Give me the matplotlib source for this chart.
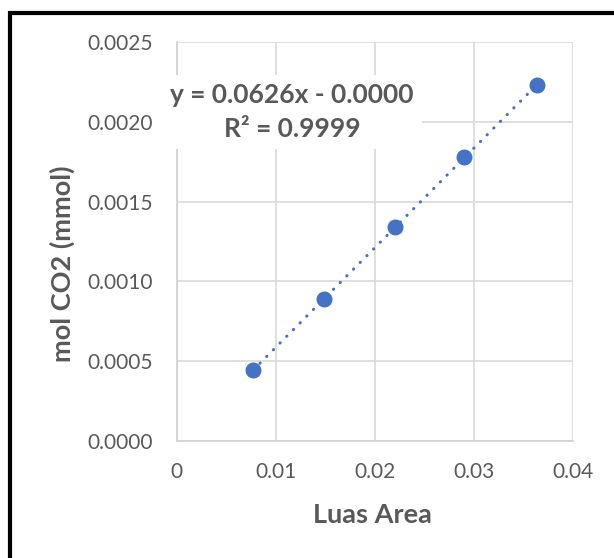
import matplotlib.pyplot as plt
import numpy as np
from matplotlib.patches import Rectangle

# data
luas_area = [0.00773, 0.01489, 0.02203, 0.02902, 0.03639]
mol_co2 = [0.000444, 0.000889, 0.001339, 0.001782, 0.002231]

x_ticks = [0, 0.01, 0.02, 0.03, 0.04]
x_tick_labels = ['0', '0.01', '0.02', '0.03', '0.04']
y_ticks = [0.0000, 0.0005, 0.0010, 0.0015, 0.0020, 0.0025]
y_tick_labels = ['0.0000', '0.0005', '0.0010', '0.0015', '0.0020', '0.0025']

eq_text = 'y = 0.0626x - 0.0000\nR² = 0.9999'

plt.rcParams['font.family'] = ['Lato', 'DejaVu Sans']

TXT = '#595959'
GRID = '#D9D9D9'
BLUE = '#4472C4'

fig = plt.figure(figsize=(6.14, 5.58), dpi=100)
ax = fig.add_axes([176.7 / 614, 1 - 440.7 / 558, (573 - 176.7) / 614, (440.7 - 42.3) / 558])

# trendline (linear fit)
coef = np.polyfit(luas_area, mol_co2, 1)
xs = np.array([min(luas_area), max(luas_area)])
ax.plot(xs, np.polyval(coef, xs), color=BLUE, lw=2.2,
        linestyle=(0, (0.1, 3.0)), dash_capstyle='round', zorder=3)

# data points
ax.plot(luas_area, mol_co2, 'o', color=BLUE, markersize=10.5, zorder=4)

ax.set_xlim(0, 0.04)
ax.set_ylim(0, 0.0025)
ax.set_xticks(x_ticks)
ax.set_xticklabels(x_tick_labels)
ax.set_yticks(y_ticks)
ax.set_yticklabels(y_tick_labels)
ax.tick_params(length=0, labelsize=15, labelcolor=TXT)
ax.tick_params(axis='x', pad=15)
ax.tick_params(axis='y', pad=17)

ax.grid(True, color=GRID, lw=1.2)
ax.set_axisbelow(True)
for s in ['top', 'right']:
    ax.spines[s].set_visible(False)
for s in ['left', 'bottom']:
    ax.spines[s].set_color('#D0D0D0')
    ax.spines[s].set_linewidth(1.2)

# equation label with white box
ax.text(0.01163, 0.002065, eq_text, ha='center', va='center', multialignment='center',
        fontsize=19, fontweight='bold', color=TXT, linespacing=1.5, zorder=5,
        bbox=dict(boxstyle='square,pad=0.3', facecolor='white', edgecolor='none'))

# axis titles
fig.text(372 / 614, 1 - 515 / 558, 'Luas Area', ha='center', va='center',
         fontsize=19.5, fontweight='bold', color=TXT)
fig.text(62 / 614, 1 - 264 / 558, 'mol CO2 (mmol)', ha='center', va='center',
         rotation=90, fontsize=19.5, fontweight='bold', color=TXT)

# black frame, only left and top visible
fig.patches.append(Rectangle((10 / 614, -0.1), 1.2, 0.1 + (558 - 13.5) / 558,
                             transform=fig.transFigure, fill=False,
                             edgecolor='black', lw=3.0, clip_on=False))

plt.savefig('out.png', dpi=100)
